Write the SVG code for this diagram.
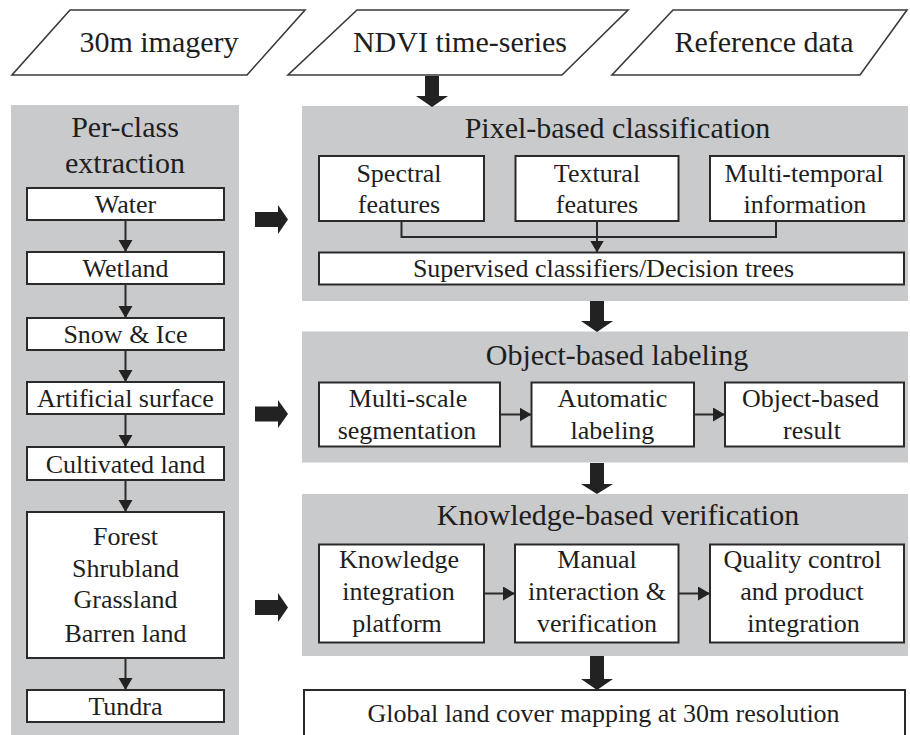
<svg xmlns="http://www.w3.org/2000/svg" width="910" height="735" viewBox="0 0 910 735">
<defs>
<style>
text{font-family:"Liberation Serif","Times New Roman",Times,Tinos,"Nimbus Roman","Nimbus Roman No9 L","FreeSerif","Noto Serif","DejaVu Serif",serif;fill:#1e1e1e;text-anchor:middle}
.t{font-size:30px}
.b{font-size:26px}
.panel{fill:#c9cacc}
.box{fill:#fff;stroke:#2a2a2a;stroke-width:2}
.para{fill:#fff;stroke:#3a3a3a;stroke-width:1.6}
.ln{fill:none;stroke:#2a2a2a;stroke-width:2}
.blk{fill:#222}
</style>
<marker id="ah" markerUnits="userSpaceOnUse" markerWidth="14" markerHeight="16" refX="12" refY="7" orient="auto">
<path d="M0,0 L12,7 L0,14 z" fill="#222"/>
</marker>
</defs>

<g id="inputs">
<g id="in-30m"><polygon class="para" points="70,10 305,10 247,75 12,75"/><text class="t" x="159" y="52">30m imagery</text></g>
<g id="in-ndvi"><polygon class="para" points="357,10 628,10 562,75 288,75"/><text class="t" x="460" y="52">NDVI time-series</text></g>
<g id="in-ref"><polygon class="para" points="673,10 907,10 860,75 612,75"/><text class="t" x="764" y="52">Reference data</text></g>
</g>

<g id="per-class">
<rect class="panel" x="11" y="105" width="228" height="640"/>
<text class="t" x="125" y="137">Per-class</text>
<text class="t" x="125" y="173">extraction</text>
<g id="water"><rect class="box" x="27" y="188" width="197" height="32"/><text class="b" x="125.5" y="213">Water</text></g>
<g id="wetland"><rect class="box" x="27" y="252" width="197" height="32"/><text class="b" x="125.5" y="277">Wetland</text></g>
<g id="snow"><rect class="box" x="27" y="318" width="197" height="32"/><text class="b" x="125.5" y="343">Snow &amp; Ice</text></g>
<g id="artificial"><rect class="box" x="27" y="382" width="197" height="32"/><text class="b" x="125.5" y="407">Artificial surface</text></g>
<g id="cultivated"><rect class="box" x="27" y="447" width="197" height="33"/><text class="b" x="125.5" y="472.5">Cultivated land</text></g>
<g id="forest"><rect class="box" x="27" y="512" width="197" height="146"/>
<text class="b" x="125.5" y="545">Forest</text>
<text class="b" x="125.5" y="577">Shrubland</text>
<text class="b" x="125.5" y="608">Grassland</text>
<text class="b" x="125.5" y="641.5">Barren land</text></g>
<g id="tundra"><rect class="box" x="27" y="690" width="197" height="32"/><text class="b" x="125.5" y="715">Tundra</text></g>
</g>

<g id="pixel">
<rect class="panel" x="302" y="106" width="606" height="195"/>
<text class="t" x="617.5" y="138">Pixel-based classification</text>
<g id="spectral"><rect class="box" x="319" y="156" width="165" height="65"/><text class="b" x="399" y="182">Spectral</text><text class="b" x="399" y="213">features</text></g>
<g id="textural"><rect class="box" x="515.5" y="156" width="163" height="65"/><text class="b" x="597" y="182">Textural</text><text class="b" x="597" y="213">features</text></g>
<g id="multitemp"><rect class="box" x="710" y="156" width="194" height="65"/><text class="b" x="804" y="182">Multi-temporal</text><text class="b" x="805" y="213">information</text></g>
<g id="supervised"><rect class="box" x="319" y="252.5" width="585" height="32"/><text class="b" x="603.5" y="277">Supervised classifiers/Decision trees</text></g>
</g>

<g id="object">
<rect class="panel" x="302" y="331.5" width="606" height="131"/>
<text class="t" x="617" y="365">Object-based labeling</text>
<g id="multiscale"><rect class="box" x="319" y="382.5" width="181" height="64"/><text class="b" x="408" y="407">Multi-scale</text><text class="b" x="407" y="438.5">segmentation</text></g>
<g id="automatic"><rect class="box" x="531.5" y="382.5" width="162.5" height="64"/><text class="b" x="612.5" y="407">Automatic</text><text class="b" x="612.5" y="438.5">labeling</text></g>
<g id="objresult"><rect class="box" x="725" y="382.5" width="179" height="64"/><text class="b" x="810.5" y="407">Object-based</text><text class="b" x="812" y="438.5">result</text></g>
</g>

<g id="knowledge">
<rect class="panel" x="302" y="494" width="606" height="162"/>
<text class="t" x="618" y="525">Knowledge-based verification</text>
<g id="kip"><rect class="box" x="319" y="544.5" width="165" height="98"/><text class="b" x="399" y="568">Knowledge</text><text class="b" x="398.5" y="600">integration</text><text class="b" x="397" y="631.5">platform</text></g>
<g id="manual"><rect class="box" x="515" y="544.5" width="163.5" height="98"/><text class="b" x="597" y="568">Manual</text><text class="b" x="597" y="600">interaction &amp;</text><text class="b" x="597" y="631.5">verification</text></g>
<g id="quality"><rect class="box" x="710" y="544.5" width="194" height="98"/><text class="b" x="802.5" y="568">Quality control</text><text class="b" x="802" y="600">and product</text><text class="b" x="803.5" y="631.5">integration</text></g>
</g>

<g id="global"><rect class="box" x="304" y="690" width="601" height="60"/><text class="b" x="603.5" y="722">Global land cover mapping at 30m resolution</text></g>

<g id="connectors">
<line class="ln" x1="125.5" y1="220" x2="125.5" y2="252" marker-end="url(#ah)"/>
<line class="ln" x1="125.5" y1="284" x2="125.5" y2="318" marker-end="url(#ah)"/>
<line class="ln" x1="125.5" y1="350" x2="125.5" y2="382" marker-end="url(#ah)"/>
<line class="ln" x1="125.5" y1="414" x2="125.5" y2="447" marker-end="url(#ah)"/>
<line class="ln" x1="125.5" y1="480" x2="125.5" y2="512" marker-end="url(#ah)"/>
<line class="ln" x1="125.5" y1="658" x2="125.5" y2="690" marker-end="url(#ah)"/>
<polyline class="ln" points="401.5,221 401.5,237 776,237 776,221"/>
<line class="ln" x1="597" y1="221" x2="597" y2="252.5" marker-end="url(#ah)"/>
<line class="ln" x1="500" y1="414.5" x2="531.5" y2="414.5" marker-end="url(#ah)"/>
<line class="ln" x1="694" y1="414.5" x2="725" y2="414.5" marker-end="url(#ah)"/>
<line class="ln" x1="484" y1="593.5" x2="515" y2="593.5" marker-end="url(#ah)"/>
<line class="ln" x1="678.5" y1="593.5" x2="710" y2="593.5" marker-end="url(#ah)"/>
<polygon class="blk" points="425,76 439,76 439,96 448,96 432,107 416,96 425,96"/>
<polygon class="blk" points="590,301 604,301 604,321 613,321 597,332 581,321 590,321"/>
<polygon class="blk" points="590,463 604,463 604,484 613,484 597,494 581,484 590,484"/>
<polygon class="blk" points="590,656 604,656 604,679 613,679 597,690 581,679 590,679"/>
<polygon class="blk" points="255,212 278,212 278,205 288,219.5 278,234 278,227 255,227"/>
<polygon class="blk" points="255,406.5 278,406.5 278,400 288,414 278,428 278,421.5 255,421.5"/>
<polygon class="blk" points="255,600 278,600 278,593 288,607.5 278,622 278,615 255,615"/>
</g>
</svg>
